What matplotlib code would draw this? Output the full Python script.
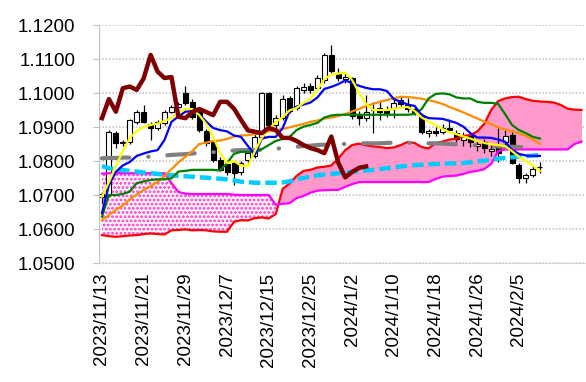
import matplotlib.pyplot as plt
import numpy as np

plt.rcParams['font.family'] = ['Liberation Sans', 'DejaVu Sans']
plt.rcParams['hatch.linewidth'] = 1.3

# daily candles, bar 0 = 2023/11/13 (business days)
opens = [1.0694, 1.0700, 1.0883, 1.0852, 1.0857, 1.0916, 1.0945, 1.0908, 1.0896, 1.0911,
         1.0945, 1.0958, 1.0999, 1.0974, 1.0945, 1.0888, 1.0857, 1.0803, 1.0790, 1.0794,
         1.0768, 1.0803, 1.0815, 1.0872, 1.0999, 1.0905, 1.0926, 1.0985, 1.0956, 1.1009,
         1.1021, 1.1014, 1.1038, 1.1112, 1.1058, 1.1042, 1.1043, 1.0935, 1.0926, 1.0950,
         1.0956, 1.0950, 1.0955, 1.0978, 1.0966, 1.0952, 1.0936, 1.0882, 1.0889, 1.0885,
         1.0897, 1.0881, 1.0862, 1.0876, 1.0845, 1.0857, 1.0828, 1.0842, 1.0857, 1.0876,
         1.0788, 1.0750, 1.0760, 1.0782]
highs = [1.0709, 1.0891, 1.0889, 1.0862, 1.0925, 1.0950, 1.0965, 1.0914, 1.0922, 1.0950,
         1.0965, 1.0975, 1.1021, 1.0982, 1.0950, 1.0895, 1.0862, 1.0812, 1.0800, 1.0800,
         1.0800, 1.0830, 1.0878, 1.1003, 1.1002, 1.0935, 1.0995, 1.0990, 1.1020, 1.1030,
         1.1028, 1.1052, 1.1118, 1.1141, 1.1075, 1.1060, 1.1048, 1.0948, 1.0994, 1.0974,
         1.0979, 1.0962, 1.0985, 1.0990, 1.0985, 1.0962, 1.0940, 1.0895, 1.0900, 1.0910,
         1.0925, 1.0890, 1.0885, 1.0882, 1.0860, 1.0865, 1.0848, 1.0896, 1.0890, 1.0890,
         1.0794, 1.0765, 1.0785, 1.0798]
lows = [1.0676, 1.0694, 1.0838, 1.0845, 1.0850, 1.0910, 1.0912, 1.0862, 1.0890, 1.0905,
        1.0940, 1.0950, 1.0965, 1.0925, 1.0885, 1.0845, 1.0798, 1.0770, 1.0760, 1.0729,
        1.0760, 1.0795, 1.0808, 1.0865, 1.0900, 1.0898, 1.0920, 1.0940, 1.0950, 1.1000,
        1.1000, 1.1008, 1.1030, 1.1060, 1.1035, 1.1030, 1.0925, 1.0905, 1.0918, 1.0882,
        1.0921, 1.0930, 1.0926, 1.0960, 1.0945, 1.0935, 1.0878, 1.0870, 1.0875, 1.0878,
        1.0885, 1.0855, 1.0845, 1.0840, 1.0830, 1.0825, 1.0815, 1.0798, 1.0845, 1.0790,
        1.0734, 1.0735, 1.0752, 1.0764]
closes = [1.0704, 1.0885, 1.0852, 1.0857, 1.0921, 1.0945, 1.0916, 1.0898, 1.0916, 1.0945,
          1.0960, 1.0968, 1.0970, 1.0930, 1.0891, 1.0852, 1.0803, 1.0774, 1.0769, 1.0765,
          1.0794, 1.0824, 1.0872, 1.0999, 1.0905, 1.0926, 1.0982, 1.0948, 1.1014, 1.1019,
          1.1010, 1.1045, 1.1112, 1.1066, 1.1044, 1.1047, 1.0933, 1.0927, 1.0945, 1.0953,
          1.0945, 1.0942, 1.0970, 1.0968, 1.0954, 1.0940, 1.0884, 1.0889, 1.0882, 1.0897,
          1.0891, 1.0864, 1.0870, 1.0856, 1.0850, 1.0838, 1.0834, 1.0823, 1.0875, 1.0795,
          1.0750, 1.0760, 1.0777, 1.0783]

tenkan = [1.0647, 1.0729, 1.0768, 1.0787, 1.0797, 1.0815, 1.0822, 1.0828, 1.0832, 1.0862,
          1.0915, 1.0931, 1.0945, 1.0947, 1.0937, 1.0916, 1.0897, 1.0891, 1.0887, 1.0875,
          1.0871, 1.0844, 1.0818, 1.0866, 1.0871, 1.0871, 1.0897, 1.0947, 1.0960, 1.0966,
          1.0972, 1.0987, 1.1012, 1.1018, 1.1026, 1.1037, 1.1029, 1.1021, 1.1015, 1.1011,
          1.1011, 1.1006, 1.0982, 1.0974, 1.0966, 1.0962, 1.0935, 1.0926, 1.0925, 1.0924,
          1.0918, 1.0912, 1.0901, 1.0882, 1.0869, 1.0869, 1.0868, 1.0863, 1.0857, 1.0832,
          1.0821, 1.0816, 1.0815, 1.0815]
kijun = [1.0636, 1.0700, 1.0700, 1.0703, 1.0710, 1.0735, 1.0740, 1.0744, 1.0746, 1.0746,
         1.0749, 1.0769, 1.0771, 1.0774, 1.0774, 1.0774, 1.0774, 1.0772, 1.0794, 1.0821,
         1.0827, 1.0827, 1.0827, 1.0835, 1.0847, 1.0859, 1.0865, 1.0871, 1.0891, 1.0901,
         1.0906, 1.0912, 1.0928, 1.0934, 1.0936, 1.0936, 1.0936, 1.0936, 1.0936, 1.0936,
         1.0936, 1.0936, 1.0936, 1.0936, 1.0936, 1.0938, 1.0953, 1.0984, 1.0997, 1.0999,
         1.0996, 1.0987, 1.0984, 1.0984, 1.0974, 1.0971, 1.0971, 1.0968, 1.0938, 1.0906,
         1.0891, 1.0882, 1.0871, 1.0866]
ma_yellow = [1.0695, 1.0738, 1.0785, 1.0829, 1.0868, 1.0888, 1.0900, 1.0906, 1.0910, 1.0918,
             1.0926, 1.0941, 1.0953, 1.0953, 1.0935, 1.0909, 1.0871, 1.0824, 1.0794, 1.0800,
             1.0786, 1.0785, 1.0829, 1.0868, 1.0893, 1.0915, 1.0929, 1.0949, 1.0956, 1.0971,
             1.0982, 1.1009, 1.1041, 1.1054, 1.1057, 1.1060, 1.1038, 1.1000, 1.0968, 1.0950,
             1.0950, 1.0950, 1.0953, 1.0957, 1.0959, 1.0947, 1.0928, 1.0916, 1.0906, 1.0894,
             1.0885, 1.0879, 1.0872, 1.0866, 1.0859, 1.0853, 1.0849, 1.0847, 1.0844, 1.0829,
             1.0812, 1.0800, 1.0787, 1.0771]
ma_orange = [1.0626, 1.0641, 1.0656, 1.0669, 1.0687, 1.0701, 1.0715, 1.0726, 1.0738, 1.0756,
             1.0776, 1.0796, 1.0812, 1.0829, 1.0850, 1.0854, 1.0859, 1.0860, 1.0865, 1.0872,
             1.0875, 1.0876, 1.0879, 1.0882, 1.0887, 1.0891, 1.0894, 1.0899, 1.0904, 1.0909,
             1.0915, 1.0919, 1.0925, 1.0928, 1.0932, 1.0938, 1.0946, 1.0953, 1.0962, 1.0968,
             1.0974, 1.0979, 1.0985, 1.0989, 1.0988, 1.0986, 1.0983, 1.0979, 1.0974, 1.0968,
             1.0959, 1.0951, 1.0943, 1.0934, 1.0925, 1.0916, 1.0909, 1.0899, 1.0893, 1.0887,
             1.0881, 1.0874, 1.0863, 1.0850]
ma_gray = [1.0808, 1.0809, 1.0809, 1.0810, 1.0810, 1.0811, 1.0812, 1.0813, 1.0815, 1.0816,
           1.0818, 1.0819, 1.0820, 1.0822, 1.0824, 1.0825, 1.0826, 1.0828, 1.0829, 1.0831,
           1.0832, 1.0832, 1.0832, 1.0833, 1.0835, 1.0836, 1.0838, 1.0839, 1.0842, 1.0844,
           1.0845, 1.0847, 1.0848, 1.0849, 1.0850, 1.0850, 1.0851, 1.0852, 1.0852, 1.0852,
           1.0852, 1.0853, 1.0854, 1.0854, 1.0854, 1.0853, 1.0852, 1.0852, 1.0852, 1.0851,
           1.0850, 1.0849, 1.0848, 1.0847, 1.0846, 1.0845, 1.0844, 1.0843, 1.0842, 1.0842,
           1.0841, 1.0841, 1.0840, 1.0840]
ma_cyan = [1.0785, 1.0779, 1.0775, 1.0773, 1.0771, 1.0769, 1.0766, 1.0765, 1.0762, 1.0760,
           1.0758, 1.0756, 1.0755, 1.0754, 1.0752, 1.0751, 1.0749, 1.0748, 1.0746, 1.0743,
           1.0739, 1.0738, 1.0736, 1.0736, 1.0736, 1.0736, 1.0737, 1.0740, 1.0746, 1.0750,
           1.0754, 1.0758, 1.0760, 1.0762, 1.0764, 1.0766, 1.0768, 1.0770, 1.0772, 1.0774,
           1.0776, 1.0779, 1.0781, 1.0784, 1.0786, 1.0788, 1.0789, 1.0790, 1.0791, 1.0792,
           1.0793, 1.0793, 1.0794, 1.0796, 1.0799, 1.0801, 1.0804, 1.0807, 1.0809, 1.0811,
           1.0813, 1.0814, 1.0816, 1.0817]
chikou = [1.0926, 1.0982, 1.0945, 1.1014, 1.1019, 1.1009, 1.1043, 1.1112, 1.1063, 1.1044,
          1.1047, 1.0930, 1.0926, 1.0944, 1.0953, 1.0944, 1.0935, 1.0974, 1.0974, 1.0954,
          1.0921, 1.0890, 1.0886, 1.0882, 1.0897, 1.0891, 1.0868, 1.0868, 1.0859, 1.0847,
          1.0838, 1.0832, 1.0823, 1.0872, 1.0795, 1.0752, 1.0768, 1.0780, 1.0784]
# leading spans (cloud), run past the last candle
span1 = [1.0582, 1.0579, 1.0577, 1.0579, 1.0581, 1.0582, 1.0585, 1.0587, 1.0585, 1.0584,
         1.0596, 1.0597, 1.0599, 1.0596, 1.0597, 1.0596, 1.0593, 1.0592, 1.0592, 1.0621,
         1.0626, 1.0625, 1.0632, 1.0634, 1.0631, 1.0644, 1.0718, 1.0734, 1.0756, 1.0771,
         1.0774, 1.0781, 1.0783, 1.0787, 1.0807, 1.0832, 1.0847, 1.0851, 1.0846, 1.0843,
         1.0841, 1.0838, 1.0840, 1.0847, 1.0856, 1.0853, 1.0841, 1.0837, 1.0853, 1.0857,
         1.0863, 1.0866, 1.0874, 1.0876, 1.0887, 1.0909, 1.0950, 1.0976, 1.0984, 1.0988,
         1.0989, 1.0982, 1.0977, 1.0975, 1.0974, 1.0972, 1.0965, 1.0954, 1.0951, 1.0950]
span2 = [1.0763, 1.0764, 1.0764, 1.0764, 1.0764, 1.0764, 1.0764, 1.0764, 1.0764, 1.0764,
         1.0735, 1.0709, 1.0704, 1.0703, 1.0703, 1.0703, 1.0703, 1.0703, 1.0703, 1.0701,
         1.0700, 1.0700, 1.0700, 1.0700, 1.0700, 1.0671, 1.0674, 1.0676, 1.0691, 1.0697,
         1.0707, 1.0713, 1.0714, 1.0715, 1.0715, 1.0724, 1.0732, 1.0738, 1.0738, 1.0738,
         1.0738, 1.0738, 1.0738, 1.0738, 1.0738, 1.0738, 1.0738, 1.0738, 1.0747, 1.0754,
         1.0756, 1.0757, 1.0762, 1.0768, 1.0771, 1.0776, 1.0791, 1.0829, 1.0834, 1.0834,
         1.0834, 1.0834, 1.0834, 1.0834, 1.0834, 1.0834, 1.0834, 1.0834, 1.0850, 1.0857]

tick_labels = ['2023/11/13', '2023/11/21', '2023/11/29', '2023/12/7', '2023/12/15',
               '2023/12/25', '2024/1/2', '2024/1/10', '2024/1/18', '2024/1/26', '2024/2/5']

fig = plt.figure(figsize=(5.86, 3.82), dpi=100)
ax = fig.add_axes([98.5/586, 119/382, 486.5/586, 238/382])

# cloud
xc = np.arange(len(span1))
s1 = np.array(span1)
s2 = np.array(span2)
ax.fill_between(xc, s1, s2, where=s1 >= s2, interpolate=True, color='#FF99CC', lw=0, zorder=1)
ax.fill_between(xc, s1, s2, where=s2 >= s1, interpolate=True, facecolor='#FFF5FB',
                edgecolor='#FF33CC', hatch='....', lw=0, zorder=1)

# candles
xb = np.arange(len(opens))
o = np.array(opens)
c = np.array(closes)
ax.vlines(xb, lows, highs, color='black', lw=0.9, zorder=2)
body = np.maximum(np.abs(c - o), 0.00004)
cols = ['white' if cc >= oo else 'black' for oo, cc in zip(o, c)]
ax.bar(xb, body, bottom=np.minimum(o, c), width=0.72, color=cols,
       edgecolor='black', lw=0.8, zorder=2.5)

xl = np.arange(len(tenkan))
ax.plot(xc, s1, color='#FF0000', lw=1.6, zorder=3)
ax.plot(xc, s2, color='#FF00FF', lw=1.6, zorder=3)
ax.plot(xl, ma_gray, color='#808080', lw=3, dashes=(6.6, 4.5, 0.1, 4.5),
        dash_capstyle='round', zorder=4)
ax.plot(xl, ma_cyan, color='#00CCFF', lw=3.2, dashes=(2.6, 1.1), zorder=4)
ax.plot(xl, ma_orange, color='#FF8C00', lw=1.6, zorder=4)
ax.plot(xl, kijun, color='#008000', lw=1.6, zorder=4)
ax.plot(xl, tenkan, color='#0000FF', lw=1.6, zorder=4)
ax.plot(xl, ma_yellow, color='#FFFF00', lw=1.6, zorder=4)
ax.plot(np.arange(len(chikou)), chikou, color='#800000', lw=3.2, zorder=5)

ax.set_xlim(-0.5, len(span1) - 0.5)
ax.set_ylim(1.05, 1.12)
ax.set_yticks(np.arange(1.05, 1.1201, 0.01))
ax.set_yticklabels(['%.4f' % v for v in np.arange(1.05, 1.1201, 0.01)])
ax.set_xticks(np.arange(0, 6 * len(tick_labels), 6))
ax.set_xticklabels(tick_labels, rotation=90)
ax.tick_params(axis='y', labelsize=13.5, length=4.5, color='#BFBFBF', pad=12)
ax.tick_params(axis='x', labelsize=13.5, length=0, pad=7)
ax.yaxis.grid(True, color='#C8C8C8', linestyle=(0, (1, 1)), lw=1.2)
ax.set_axisbelow(True)
for s in ['top', 'right']:
    ax.spines[s].set_visible(False)
ax.spines['left'].set_color('#BFBFBF')
ax.spines['bottom'].set_color('#D9D9D9')

plt.savefig('out.png', dpi=100, facecolor='white')
